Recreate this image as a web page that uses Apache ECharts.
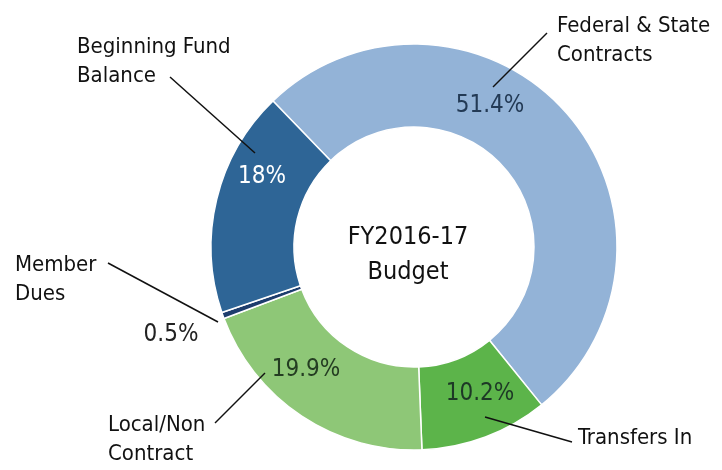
<!DOCTYPE html>
<html>
<head>
<meta charset="utf-8">
<script src="https://cdn.jsdelivr.net/npm/echarts@6/dist/echarts.min.js"></script>
<style>
html,body{margin:0;padding:0;background:#fff;}
#chart{width:722px;height:470px;}
</style>
</head>
<body>
<div id="chart"></div>
<script>
// ---- data ----
const categories = ['Federal & State\nContracts', 'Transfers In', 'Local/Non\nContract', 'Member\nDues', 'Beginning Fund\nBalance'];
const values = [51.4, 10.2, 19.9, 0.5, 18];
const colors = ['#93b3d7', '#5cb44a', '#8ec777', '#1d3d6d', '#2e6596'];
const pctColors = ['#233a55', '#1d3826', '#243d22', '#222222', '#ffffff'];
const centerTitle = 'FY2016-17\nBudget';

// ---- annotation layout (label placement only) ----
const FONT = "'Liberation Sans Narrow', 'DejaVu Sans Condensed', sans-serif";
const pctPos = [[490, 106], [480, 394], [306, 370], [171, 335], [262, 177]];
const namePos = [[557, 12], [578, 424], [108, 411], [15, 251], [77, 33]];
const leader = [
  [[547, 33], [493, 87]],
  [[572, 442], [485, 417]],
  [[215, 423], [265, 373]],
  [[108, 263], [218, 322]],
  [[170, 77], [255, 153]]
];

const data = categories.map((c, i) => ({ name: c, value: values[i], itemStyle: { color: colors[i] } }));

const chart = echarts.init(document.getElementById('chart'));
const CENTER = [414, 247];
const RADIUS = [120, 203];

chart.setOption({
  animation: false,
  backgroundColor: '#ffffff',
  series: [
    {
      type: 'pie',
      z: 2,
      center: CENTER,
      radius: RADIUS,
      startAngle: 134,
      clockwise: true,
      avoidLabelOverlap: false,
      itemStyle: { borderColor: '#ffffff', borderWidth: 1.5 },
      label: {
        show: true,
        position: 'inside',
        fontFamily: FONT,
        fontSize: 24,
        formatter: p => p.value + '%',
        color: '#222'
      },
      labelLine: { show: false },
      labelLayout: p => ({ x: pctPos[p.dataIndex][0], y: pctPos[p.dataIndex][1], align: 'center', verticalAlign: 'middle' }),
      data: data.map((d, i) => Object.assign({}, d, { label: { color: pctColors[i] } })),
      silent: true
    },
    {
      type: 'pie',
      z: 5,
      center: CENTER,
      radius: RADIUS,
      startAngle: 134,
      clockwise: true,
      avoidLabelOverlap: false,
      silent: true,
      itemStyle: { color: 'rgba(0,0,0,0)', borderWidth: 0 },
      label: {
        show: true,
        position: 'outside',
        fontFamily: FONT,
        fontSize: 22,
        lineHeight: 29,
        color: '#111',
        formatter: p => p.name
      },
      labelLine: { show: true, lineStyle: { color: '#111', width: 1.5 } },
      labelLayout: p => ({
        x: namePos[p.dataIndex][0],
        y: namePos[p.dataIndex][1],
        align: 'left',
        verticalAlign: 'top',
        labelLinePoints: leader[p.dataIndex]
      }),
      data: categories.map((c, i) => ({ name: c, value: values[i] }))
    }
  ],
  graphic: [
    {
      type: 'text',
      x: 408,
      y: 220,
      style: {
        text: centerTitle,
        font: "25px " + FONT,
        lineHeight: 35,
        fill: '#111',
        align: 'center',
        verticalAlign: 'top'
      }
    }
  ]
});
</script>
</body>
</html>
